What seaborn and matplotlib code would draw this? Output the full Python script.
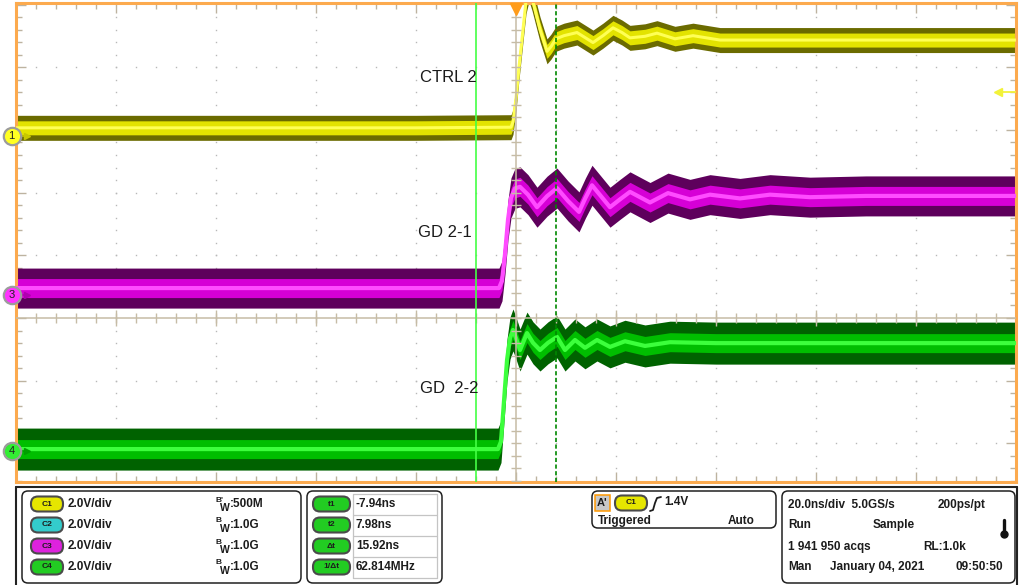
import numpy as np
import matplotlib
matplotlib.use("Agg")
import matplotlib.pyplot as plt
from matplotlib.patches import FancyBboxPatch, Rectangle
from matplotlib.ticker import MultipleLocator
import seaborn as sns

# ---- waveform data: time in ns, level in volts (every channel at 2 V/div) ----
ctrl2_t = [-100, -60, -20, -1.0, -0.6, 0.0, 0.6, 1.4, 2.0, 2.6, 3.2, 4.8, 6.2, 7.0, 8.0,
           9.6, 12.2, 14.0, 15.4, 17.4, 19.4, 21.2, 22.8, 25.8, 28.2, 31.8, 35.4, 40.8, 60, 100]
ctrl2_v = [0.26, 0.26, 0.26, 0.28, 0.45, 1.2, 2.2, 3.4, 4.3, 4.7, 4.4, 3.4, 2.7, 2.85, 3.1,
           3.2, 3.3, 3.12, 2.98, 3.2, 3.45, 3.3, 3.13, 3.18, 3.28, 3.1, 3.2, 3.06, 3.06, 3.06]

gd21_t = [-100, -20, -3.4, -2.8, -2.2, -1.6, -1.0, -0.2, 0.8, 2.4, 4.2, 6.2, 8.2, 10.4, 12.6,
          13.9, 15.2, 17.0, 18.8, 20.8, 22.8, 24.8, 26.8, 30.4, 34.8, 38.8, 44.8, 50.8, 58.8,
          70, 100]
gd21_v = [0.22, 0.22, 0.22, 0.45, 1.3, 2.4, 3.1, 3.4, 3.45, 3.2, 2.8, 3.15, 3.41, 3.0, 2.65,
          3.1, 3.5, 3.15, 2.8, 3.05, 3.29, 3.12, 2.95, 3.25, 3.05, 3.2, 3.08, 3.2, 3.12,
          3.16, 3.16]

gd22_t = [-100, -20, -3.6, -3.0, -2.4, -1.8, -1.2, -0.6, 0.0, 0.8, 2.2, 3.4, 4.8, 6.4, 8.2,
          9.8, 11.8, 13.8, 16.2, 18.8, 21.8, 25.8, 30.8, 40, 100]
gd22_v = [0.06, 0.06, 0.06, 0.3, 1.6, 2.9, 3.6, 3.86, 3.6, 3.22, 3.76, 3.45, 3.22, 3.45, 3.64,
          3.22, 3.54, 3.29, 3.54, 3.32, 3.5, 3.35, 3.47, 3.44, 3.44]

volts_per_div = 2.0
ground_div = [2.903, 0.367, -2.121]          # ch1, ch3, ch4 ground markers (div)
channel_nums = ["1", "3", "4"]
trace_labels = ["CTRL 2", "GD 2-1", "GD  2-2"]
cursor_t1 = -7.94
cursor_t2 = 7.98
trig_level = 1.4

# readout panel text
ch_names = ["C1", "C2", "C3", "C4"]
ch_scales = ["2.0V/div", "2.0V/div", "2.0V/div", "2.0V/div"]
ch_bw = ["500M", "1.0G", "1.0G", "1.0G"]
cur_names = ["t1", "t2", "Δt", "1/Δt"]
cur_vals = ["-7.94ns", "7.98ns", "15.92ns", "62.814MHz"]

sns.set_theme(style="white")
plt.rcParams["font.family"] = ["Liberation Sans", "DejaVu Sans"]

fig = plt.figure(figsize=(10.24, 5.85), dpi=100)
ax = fig.add_axes([16 / 1024, 103 / 585, 1000 / 1024, 479 / 585])
ax.set_xlim(-100, 100)
ax.set_ylim(-2.616, 5.024)
ax.set_facecolor("white")

# graticule dots
dot_x, dot_y = [], []
for r in [-2, -1, 1, 2, 3, 4]:
    for t in np.arange(-96, 100, 4):
        if t != 0:
            dot_x.append(t); dot_y.append(r)
for c in np.arange(-80, 100, 20):
    if c != 0:
        for yy in np.arange(-2.6, 5.0, 0.2):
            dot_x.append(c); dot_y.append(yy)
ax.plot(dot_x, dot_y, ls="none", marker="s", ms=1.0, mew=0, color="#B8B8B8", zorder=1)

# traces: persistence band (dark outer, mid, bright core)
palettes = [("#6B6B00", "#E3E300", "#FFFF55"),
            ("#5E005C", "#D600D6", "#FF4CFF"),
            ("#006200", "#00BE00", "#3CFF3C")]
halfw = [(12.5, 7.0, 2.2), (20.0, 9.5, 3.0), (21.0, 9.5, 3.0)]  # px
series = [(ctrl2_t, ctrl2_v), (gd21_t, gd21_v), (gd22_t, gd22_v)]
for (t, v), off, cols, hw in zip(series, ground_div, palettes, halfw):
    t = np.array(t, dtype=float)
    y = off + np.array(v) / volts_per_div
    ax.fill_between(t, y - hw[0] / 62.7, y + hw[0] / 62.7, color=cols[0], lw=0, zorder=2)
    ax.fill_between(t, y - hw[1] / 62.7, y + hw[1] / 62.7, color=cols[1], lw=0, zorder=2)
    sns.lineplot(x=t, y=y, ax=ax, color=cols[2], lw=hw[2], estimator=None, sort=False, zorder=3)

# center crosshair with minor ticks
xh = "#C6BCA6"
ax.axhline(0, color=xh, lw=1.1, zorder=4)
ax.axvline(0, color=xh, lw=1.1, zorder=4)
tt = np.arange(-96, 100, 4)
ax.vlines(tt, -0.08, 0.08, color=xh, lw=1.0, zorder=4)
ax.vlines(tt[tt % 20 == 0], -0.12, 0.12, color=xh, lw=1.0, zorder=4)
yy = np.arange(-2.6, 5.0, 0.2)
ax.hlines(yy, -1.0, 1.0, color=xh, lw=1.0, zorder=4)

# cursors
ax.axvline(cursor_t1, color="#44FF44", lw=1.2, zorder=5)
ax.axvline(cursor_t2, color="#008800", lw=1.2, ls=(0, (2.5, 1.5)), zorder=5)

# trace labels
label_pos = [(-19.2, 3.83), (-19.6, 1.37), (-19.2, -1.12)]
for lab, (lx, ly) in zip(trace_labels, label_pos):
    ax.text(lx, ly, lab, fontsize=12, color="#1A1A1A", ha="left", va="center", zorder=6)

# channel ground markers
marker_cols = ["#FFFF22", "#FF33FF", "#33EE33"]
arrow_cols = ["#C8C800", "#B000B0", "#00A000"]
for num, off, mc, ac in zip(channel_nums, ground_div, marker_cols, arrow_cols):
    ax.plot([-100, -97.8], [off, off], color=ac, lw=1.2, clip_on=False, zorder=9)
    ax.plot(-97.8, off, marker=">", ms=4, color=ac, clip_on=False, zorder=9)
    ax.plot(-100.9, off, marker="o", ms=12.5, mfc=mc, mec="#9C9C9C", mew=1.6,
            clip_on=False, zorder=10)
    ax.text(-100.9, off, num, ha="center", va="center", fontsize=8, color="#202020",
            clip_on=False, zorder=11)

# trigger position and level
ax.plot(0, 4.93, marker="v", ms=8, color="#FF9C1A", clip_on=False, zorder=10)
trig_y = ground_div[0] + trig_level / volts_per_div
ax.plot([97.2, 100], [trig_y, trig_y], color="#F2F23A", lw=1.3, zorder=9)
ax.plot(96.4, trig_y, marker="<", ms=6, color="#F2F23A", zorder=9)

# frame: orange border, tan ticks
for s in ax.spines.values():
    s.set_color("#FCAA4E")
    s.set_linewidth(2.2)
ax.xaxis.set_major_locator(MultipleLocator(20))
ax.xaxis.set_minor_locator(MultipleLocator(4))
ax.yaxis.set_major_locator(MultipleLocator(1))
ax.yaxis.set_minor_locator(MultipleLocator(0.2))
ax.tick_params(which="both", direction="in", top=True, right=True, bottom=True, left=True,
               labelbottom=False, labelleft=False, color="#BDB3A0", width=1.0)
ax.tick_params(which="major", length=7)
ax.tick_params(which="minor", length=4)
ax.set_xlabel("")
ax.set_ylabel("")

# ---- readout panel (pixel coordinates) ----
pa = fig.add_axes([0, 0, 1, 1], zorder=5)
pa.set_xlim(0, 1024)
pa.set_ylim(585, 0)
pa.set_axis_off()

dark = "#1C1C1C"
pa.plot([16, 1017], [487, 487], color="#222222", lw=1.5)
pa.plot([16, 16], [487, 585], color="#222222", lw=1.5)
pa.plot([1017, 1017], [487, 585], color="#222222", lw=1.5)


def box(x0, y0, x1, y1):
    pa.add_patch(FancyBboxPatch((x0, y0), x1 - x0, y1 - y0,
                                boxstyle="round,pad=0,rounding_size=6",
                                fc="white", ec="#202020", lw=1.1))


def pill(x, y, w, face, label, fs=6):
    pa.add_patch(FancyBboxPatch((x, y - 7.5), w, 15, boxstyle="round,pad=0,rounding_size=7",
                                fc=face, ec="#4A4A4A", lw=1.5))
    pa.text(x + w / 2, y, label, ha="center", va="center", fontsize=fs,
            weight="bold", color=dark)


def txt(x, y, s, fs=8.5, ha="left"):
    pa.text(x, y, s, ha=ha, va="center", fontsize=fs, weight="bold", color=dark)


box(22, 491, 301, 583)
box(307, 491, 442, 583)
box(592, 491, 776, 528)
box(782, 491, 1015, 583)

rows = [504, 525, 546, 567]
pill_cols = ["#E6E600", "#33CCCC", "#DD22DD", "#22CC22"]
for i, (r, nm, sc, bw, pc) in enumerate(zip(rows, ch_names, ch_scales, ch_bw, pill_cols)):
    pill(31, r, 32, pc, nm)
    txt(68, r, sc)
    pa.text(215, r - 4, "B'" if i == 0 else "B", ha="left", va="center", fontsize=6,
            weight="bold", color=dark)
    pa.text(220, r + 4, "W", ha="left", va="center", fontsize=7.5, weight="bold", color=dark)
    txt(230, r, ":" + bw)

for y in [494, 515, 536, 557, 578]:
    pa.plot([353, 437], [y, y], color="#C4C4C4", lw=0.9)
for x in [353, 437]:
    pa.plot([x, x], [494, 578], color="#C4C4C4", lw=0.9)
for r, nm, val in zip(rows, cur_names, cur_vals):
    pill(313, r, 37, "#22CC22", nm)
    txt(356, r, val)

pa.add_patch(Rectangle((595, 495), 15, 16, fc="#C8C8C8", ec="#FF9900", lw=1.1))
txt(597, 503, "A'", fs=8)
pill(615, 503, 32, "#E6E600", "C1")
pa.plot([650, 653, 655, 657, 661], [511, 510, 503, 498, 497], color=dark, lw=1.3)
txt(664, 502, "1.4V")
txt(598, 521, "Triggered")
txt(728, 521, "Auto")

txt(788, 505, "20.0ns/div  5.0GS/s")
txt(938, 505, "200ps/pt")
txt(788, 525, "Run")
txt(873, 525, "Sample")
pa.plot([1004, 1004], [520, 531], color="#111111", lw=2.4, solid_capstyle="round")
pa.plot(1004, 534, marker="o", ms=5, color="#111111")
txt(788, 547, "1 941 950 acqs")
txt(923, 547, "RL:1.0k")
txt(788, 567, "Man")
txt(830, 567, "January 04, 2021")
txt(955, 567, "09:50:50")

fig.savefig("out.png", dpi=100)
